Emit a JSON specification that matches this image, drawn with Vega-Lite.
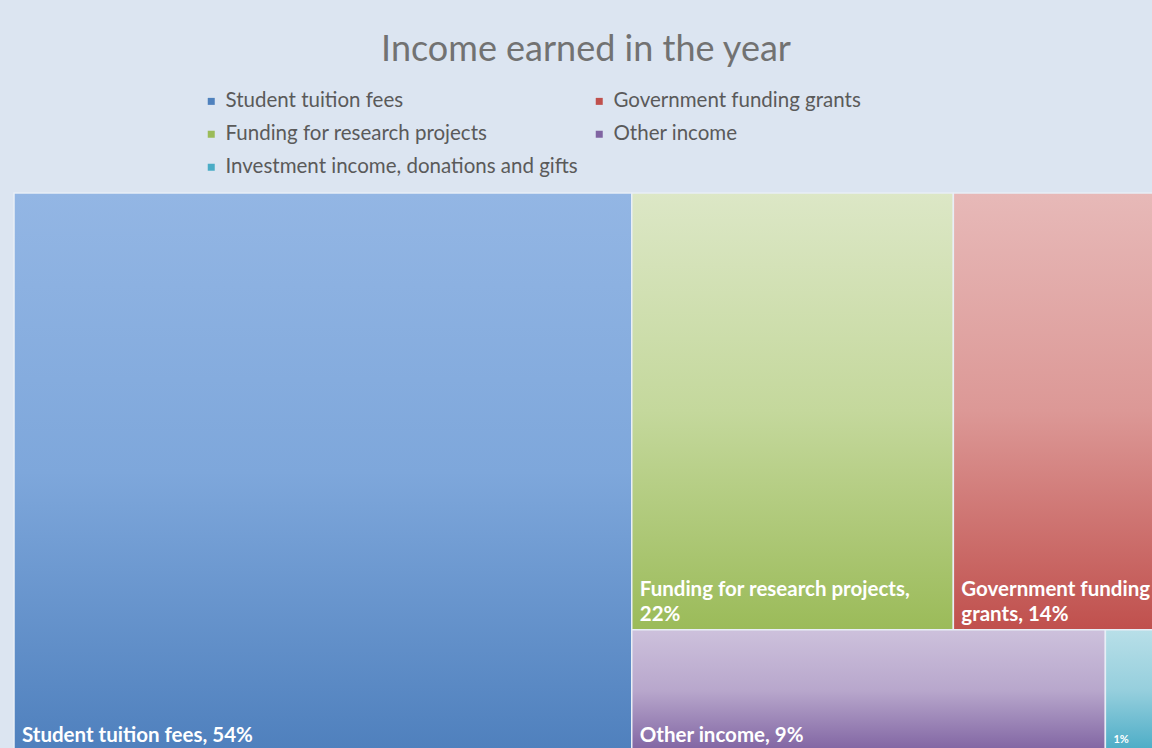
{
  "$schema": "https://vega.github.io/schema/vega-lite/v6.json",
  "autosize": {"type": "none"},
  "padding": {"left": 14, "top": 193, "right": 0, "bottom": 0},
  "width": 1144,
  "height": 558,
  "background": "#dce5f1",
  "title": {
    "text": "Income earned in the year",
    "anchor": "middle",
    "font": "Lato",
    "fontSize": 36,
    "fontWeight": "normal",
    "color": "#727272",
    "offset": 22
  },
  "config": {
    "view": {"stroke": null},
    "font": "Lato"
  },
  "data": {
    "values": [
      {"name": "Student tuition fees", "value": 54, "col": 1, "row": 1, "line1": "", "line2": "Student tuition fees, 54%"},
      {"name": "Funding for research projects", "value": 22, "col": 2, "row": 1, "line1": "Funding for research projects,", "line2": "22%"},
      {"name": "Government funding grants", "value": 14, "col": 2, "row": 1, "line1": "Government funding", "line2": "grants, 14%"},
      {"name": "Other income", "value": 9, "col": 2, "row": 2, "line1": "", "line2": "Other income, 9%"},
      {"name": "Investment income, donations and gifts", "value": 1, "col": 2, "row": 2, "line1": "", "line2": "1%"}
    ]
  },
  "transform": [
    {"joinaggregate": [{"op": "sum", "field": "value", "as": "total"}]},
    {"joinaggregate": [{"op": "sum", "field": "value", "as": "colTotal"}], "groupby": ["col"]},
    {"joinaggregate": [{"op": "sum", "field": "value", "as": "rowTotal"}], "groupby": ["col", "row"]},
    {"stack": "value", "groupby": [], "sort": [{"field": "col", "order": "ascending"}, {"field": "row", "order": "ascending"}, {"field": "value", "order": "descending"}], "as": ["cs0", "cs1"]},
    {"joinaggregate": [{"op": "min", "field": "cs0", "as": "colStart"}], "groupby": ["col"]},
    {"stack": "value", "groupby": ["col"], "sort": [{"field": "row", "order": "ascending"}, {"field": "value", "order": "descending"}], "as": ["rs0", "rs1"]},
    {"joinaggregate": [{"op": "min", "field": "rs0", "as": "rowStart"}], "groupby": ["col", "row"]},
    {"stack": "value", "groupby": ["col", "row"], "sort": [{"field": "value", "order": "descending"}], "as": ["is0", "is1"]},
    {"calculate": "datum.colStart / datum.total + (datum.is0 / datum.rowTotal) * (datum.colTotal / datum.total)", "as": "x0"},
    {"calculate": "datum.colStart / datum.total + (datum.is1 / datum.rowTotal) * (datum.colTotal / datum.total)", "as": "x1"},
    {"calculate": "datum.rowStart / datum.colTotal", "as": "y0"},
    {"calculate": "(datum.rowStart + datum.rowTotal) / datum.colTotal", "as": "y1"}
  ],
  "encoding": {
    "x": {"field": "x0", "type": "quantitative", "scale": {"domain": [0, 1], "nice": false, "zero": false}, "axis": null},
    "y": {"field": "y0", "type": "quantitative", "scale": {"domain": [0, 1], "nice": false, "zero": false, "reverse": true}, "axis": null}
  },
  "layer": [
    {
      "mark": {"type": "rect"},
      "encoding": {
        "x2": {"field": "x1"},
        "y2": {"field": "y1"},
        "color": {
          "field": "name",
          "type": "nominal",
          "scale": {
            "domain": ["Student tuition fees", "Funding for research projects", "Investment income, donations and gifts", "Government funding grants", "Other income"],
            "range": ["#4f81bd", "#9bbb59", "#4bacc6", "#c0504d", "#8064a2"]
          },
          "legend": {
            "title": null,
            "orient": "none",
            "legendX": 187,
            "legendY": -102,
            "columns": 2,
            "columnPadding": 11,
            "rowPadding": 12,
            "symbolType": "square",
            "symbolSize": 49,
            "symbolStrokeWidth": 0,
            "labelFont": "Lato",
            "labelFontSize": 20.5,
            "labelColor": "#5a5a5a",
            "labelLimit": 500,
            "labelOffset": 4
          }
        }
      }
    },
    {
      "transform": [{"filter": "datum.name === 'Student tuition fees'"}],
      "mark": {"type": "rect", "stroke": "#e8eef6", "strokeWidth": 1.5, "fill": {"gradient": "linear", "x1": 0, "y1": 0, "x2": 0, "y2": 1, "stops": [{"offset": 0, "color": "#93b6e4"}, {"offset": 0.5, "color": "#7ea7db"}, {"offset": 1, "color": "#4f80bd"}]}},
      "encoding": {"x2": {"field": "x1"}, "y2": {"field": "y1"}}
    },
    {
      "transform": [{"filter": "datum.name === 'Funding for research projects'"}],
      "mark": {"type": "rect", "stroke": "#e8eef6", "strokeWidth": 1.5, "fill": {"gradient": "linear", "x1": 0, "y1": 0, "x2": 0, "y2": 1, "stops": [{"offset": 0, "color": "#dce7c6"}, {"offset": 0.5, "color": "#c4d89c"}, {"offset": 1, "color": "#9bbb59"}]}},
      "encoding": {"x2": {"field": "x1"}, "y2": {"field": "y1"}}
    },
    {
      "transform": [{"filter": "datum.name === 'Government funding grants'"}],
      "mark": {"type": "rect", "stroke": "#e8eef6", "strokeWidth": 1.5, "fill": {"gradient": "linear", "x1": 0, "y1": 0, "x2": 0, "y2": 1, "stops": [{"offset": 0, "color": "#e7b9b8"}, {"offset": 0.5, "color": "#dc9896"}, {"offset": 1, "color": "#c0504d"}]}},
      "encoding": {"x2": {"field": "x1"}, "y2": {"field": "y1"}}
    },
    {
      "transform": [{"filter": "datum.name === 'Other income'"}],
      "mark": {"type": "rect", "stroke": "#e8eef6", "strokeWidth": 1.5, "fill": {"gradient": "linear", "x1": 0, "y1": 0, "x2": 0, "y2": 1, "stops": [{"offset": 0, "color": "#cdc1dc"}, {"offset": 0.5, "color": "#b8a7cc"}, {"offset": 1, "color": "#8064a2"}]}},
      "encoding": {"x2": {"field": "x1"}, "y2": {"field": "y1"}}
    },
    {
      "transform": [{"filter": "datum.name === 'Investment income, donations and gifts'"}],
      "mark": {"type": "rect", "stroke": "#e8eef6", "strokeWidth": 1.5, "fill": {"gradient": "linear", "x1": 0, "y1": 0, "x2": 0, "y2": 1, "stops": [{"offset": 0, "color": "#b8dfe8"}, {"offset": 0.5, "color": "#96cfdd"}, {"offset": 1, "color": "#4bacc6"}]}},
      "encoding": {"x2": {"field": "x1"}, "y2": {"field": "y1"}}
    },
    {
      "transform": [{"filter": "datum.value >= 5"}],
      "mark": {"type": "text", "align": "left", "baseline": "alphabetic", "dx": 8, "dy": -9, "font": "Lato", "fontSize": 20.5, "fontWeight": "bold", "color": "#ffffff"},
      "encoding": {"y": {"field": "y1"}, "text": {"field": "line2"}}
    },
    {
      "transform": [{"filter": "datum.value >= 5 && datum.line1 !== ''"}],
      "mark": {"type": "text", "align": "left", "baseline": "alphabetic", "dx": 8, "dy": -34, "font": "Lato", "fontSize": 20.5, "fontWeight": "bold", "color": "#ffffff"},
      "encoding": {"y": {"field": "y1"}, "text": {"field": "line1"}}
    },
    {
      "transform": [{"filter": "datum.value < 5"}],
      "mark": {"type": "text", "align": "left", "baseline": "alphabetic", "dx": 8, "dy": -8, "font": "Lato", "fontSize": 11, "fontWeight": "bold", "color": "#ffffff"},
      "encoding": {"y": {"field": "y1"}, "text": {"field": "line2"}}
    }
  ]
}
